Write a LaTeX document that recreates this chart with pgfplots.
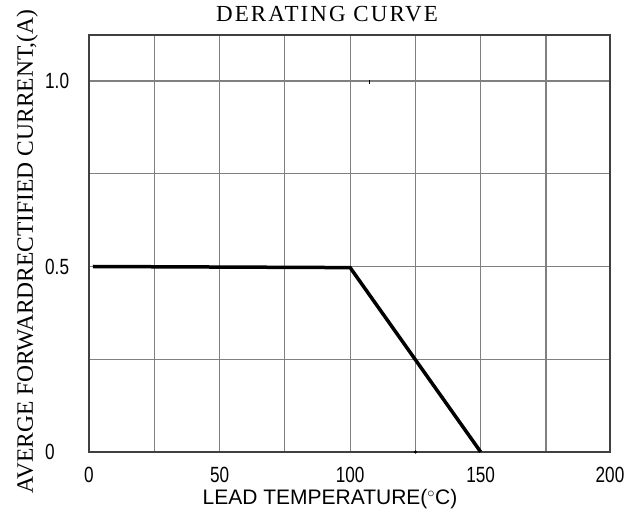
\documentclass[border=0pt]{standalone}
\usepackage{pgfplots}
\pgfplotsset{compat=1.18}
\usepackage{fontspec}
\setmainfont{Liberation Serif}
\newfontfamily\sfont{Liberation Sans}
\newfontfamily\tickfont[FakeStretch=0.78]{Liberation Sans}
\begin{document}
\begin{tikzpicture}
\begin{axis}[
  scale only axis,
  width=521pt, height=417pt,
  xmin=0, xmax=199.5, ymin=0, ymax=1.124,
  xtick={0,50,100,150,199.5},
  xticklabels={0,50,100,150,200},
  minor xtick={25,75,125,175},
  ytick={0,0.5,1.0},
  yticklabels={0,0.5,1.0},
  minor ytick={0.25,0.75},
  grid=both,
  major grid style={black!50, line width=1.1pt},
  minor grid style={black!50, line width=1.1pt},
  major tick length=0pt, minor tick length=0pt,
  axis line style={black!75, line width=1.1pt},
  /pgf/number format/assume math mode=true,
  xticklabel style={font=\tickfont\fontsize{22}{22}\selectfont, inner sep=0pt, anchor=north, yshift=-15pt},
  yticklabel style={font=\tickfont\fontsize{22}{22}\selectfont, inner sep=0pt, anchor=west, xshift=-44pt},
  xlabel={LEAD TEMPERATURE(${}^{\circ}$C)},
  xlabel style={font=\sfont\fontsize{21}{21}\selectfont, at={(rel axis cs:0.4626,0)}, anchor=base, yshift=-53pt, inner sep=0pt},
  ylabel={AVERGE FORWARDRECTIFIED CURRENT,(A)},
  ylabel style={font=\fontsize{23.5}{23.5}\selectfont, at={(rel axis cs:0,0.48)}, anchor=base, yshift=56pt, inner sep=0pt},
  title={DERATING CURVE},
  title style={font=\addfontfeature{LetterSpace=9}\fontsize{23}{23}\selectfont, at={(rel axis cs:0.4568,1)}, anchor=base, yshift=7pt, inner sep=0pt},
  clip=false,
]
\addplot[black, line width=3.5pt, line join=miter] coordinates {(1.5,0.5) (100,0.497) (150,0)};
\addplot[only marks, mark=*, mark size=1.4pt, black] coordinates {(125,0)};
\addplot[only marks, mark=|, mark size=2pt, black, line width=1.5pt] coordinates {(107.5,0.998)};
\coordinate (ll) at (rel axis cs:0,0);
\end{axis}
\pgfresetboundingbox
\path (ll) ++(-89pt,-64pt) rectangle ++(624pt,516pt);
\end{tikzpicture}
\end{document}
